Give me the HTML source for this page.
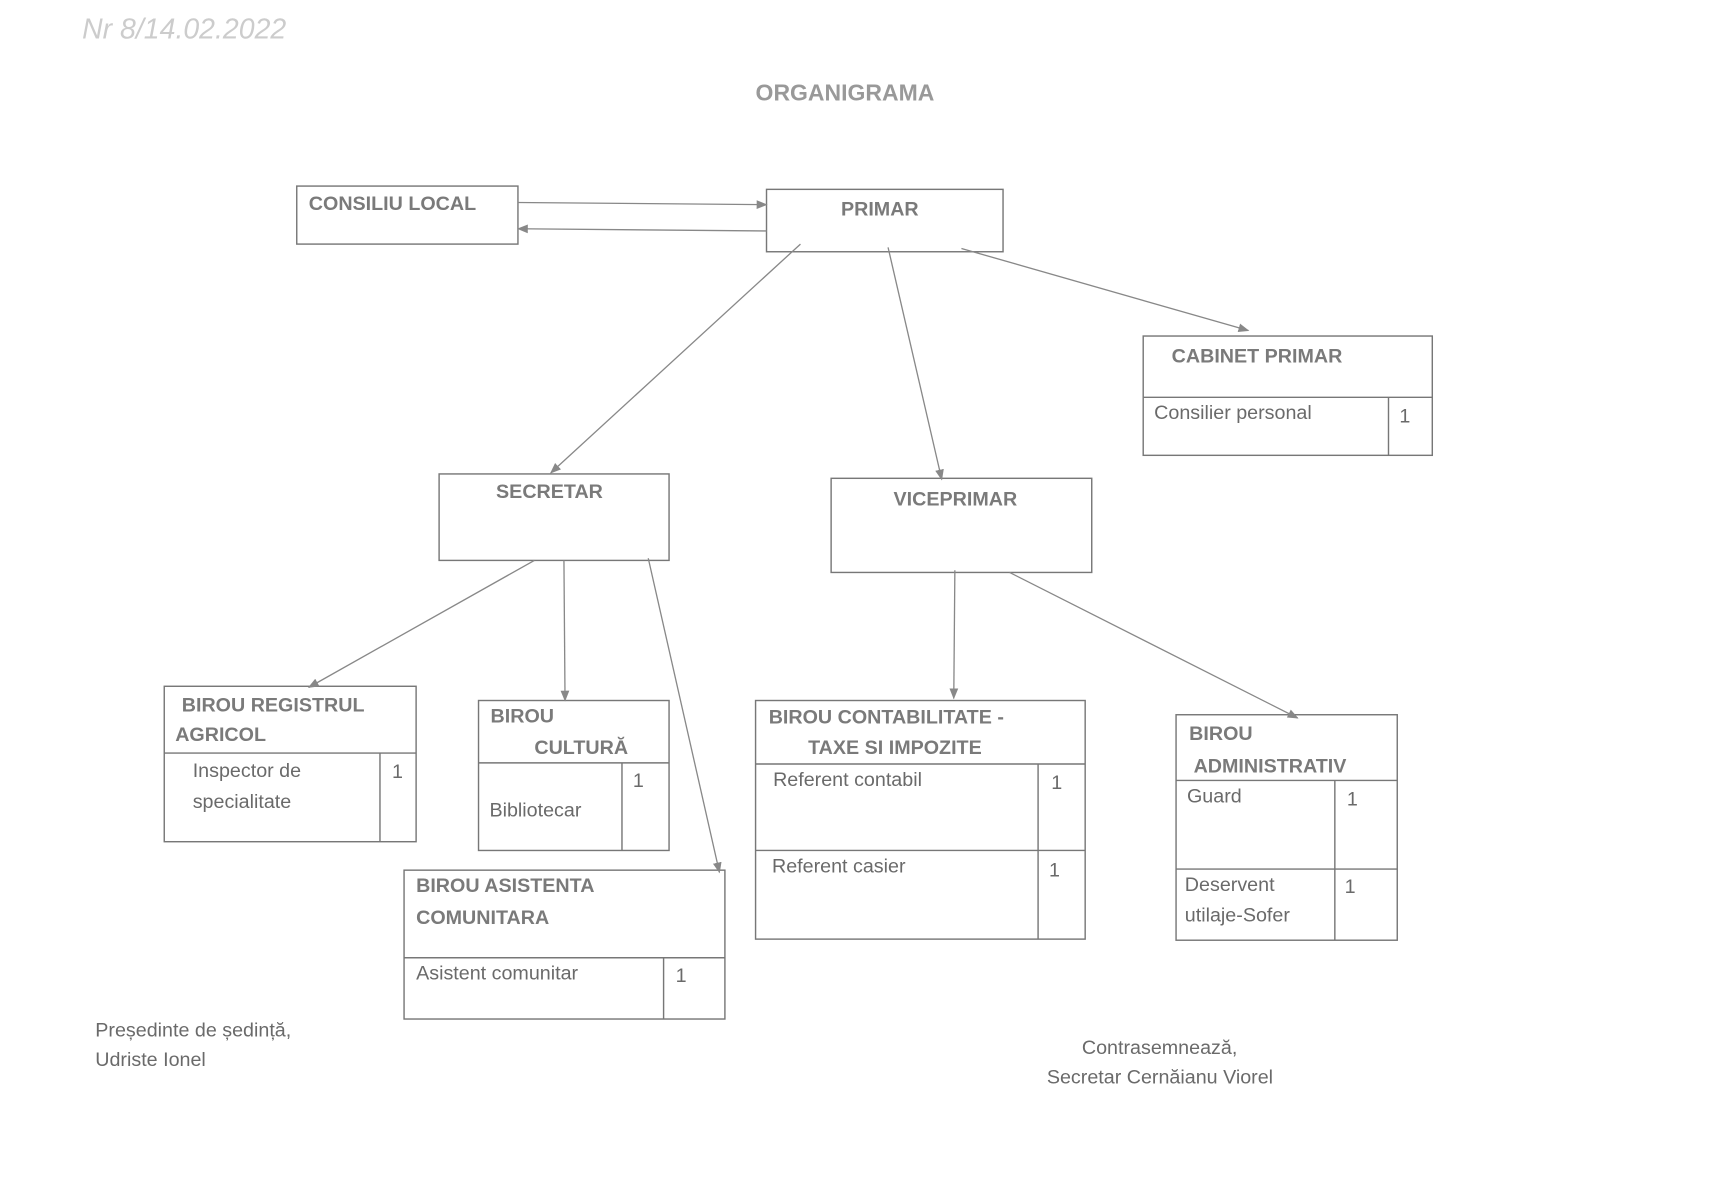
<!DOCTYPE html>
<html><head><meta charset="utf-8"><style>
html,body{margin:0;padding:0;background:#fff;}
svg{display:block}
text{font-family:"Liberation Sans",sans-serif;fill:#6a6a6a;font-size:18px}
.b{font-weight:bold;fill:#7a7a7a}
</style></head><body>
<svg width="1717" height="1204" viewBox="0 0 1568 1100" preserveAspectRatio="none" xmlns="http://www.w3.org/2000/svg">
<defs><marker id="a" markerWidth="10" markerHeight="10" refX="9" refY="5" orient="auto" markerUnits="userSpaceOnUse"><path d="M0,1 L10,5 L0,9 z" fill="#888"/></marker></defs>
<rect width="1568" height="1100" fill="#fff"/>
<text x="75" y="35" style="font-size:26px;fill:#ccc;font-style:italic">Nr 8/14.02.2022</text>
<text x="690" y="92" class="b" style="font-size:21px;fill:#999">ORGANIGRAMA</text>
<g fill="none" stroke="#777" stroke-width="1.3">
<rect x="271" y="170" width="202" height="53"/>
<rect x="700" y="173" width="216" height="57"/>
<rect x="1044" y="307" width="264" height="109"/><line x1="1044" y1="363" x2="1308" y2="363"/><line x1="1268" y1="363" x2="1268" y2="416"/>
<rect x="401" y="433" width="210" height="79"/>
<rect x="759" y="437" width="238" height="86"/>
<rect x="150" y="627" width="230" height="142"/><line x1="150" y1="688" x2="380" y2="688"/><line x1="347" y1="688" x2="347" y2="769"/>
<rect x="437" y="640" width="174" height="137"/><line x1="437" y1="697" x2="611" y2="697"/><line x1="568" y1="697" x2="568" y2="777"/>
<rect x="369" y="795" width="293" height="136"/><line x1="369" y1="875" x2="662" y2="875"/><line x1="606" y1="875" x2="606" y2="931"/>
<rect x="690" y="640" width="301" height="218"/><line x1="690" y1="698" x2="991" y2="698"/><line x1="690" y1="777" x2="991" y2="777"/><line x1="948" y1="698" x2="948" y2="858"/>
<rect x="1074" y="653" width="202" height="206"/><line x1="1074" y1="713" x2="1276" y2="713"/><line x1="1074" y1="794" x2="1276" y2="794"/><line x1="1219" y1="713" x2="1219" y2="859"/>
</g>
<g stroke="#888" stroke-width="1.2" marker-end="url(#a)">
<line x1="473" y1="185" x2="700" y2="187"/>
<line x1="700" y1="211" x2="473" y2="209"/>
<line x1="731" y1="223" x2="503" y2="432"/>
<line x1="811" y1="226" x2="860" y2="438"/>
<line x1="878" y1="227" x2="1140" y2="302"/>
<line x1="488" y1="512" x2="282" y2="628"/>
<line x1="515" y1="512" x2="516" y2="640"/>
<line x1="592" y1="510" x2="657" y2="797"/>
<line x1="872" y1="521" x2="871" y2="638"/>
<line x1="922" y1="523" x2="1185" y2="656"/>
</g>
<text x="282" y="192" class="b">CONSILIU LOCAL</text>
<text x="768" y="197" class="b">PRIMAR</text>
<text x="1070" y="331" class="b">CABINET PRIMAR</text>
<text x="1054" y="383">Consilier personal</text><text x="1278" y="386">1</text>
<text x="453" y="455" class="b">SECRETAR</text>
<text x="816" y="462" class="b">VICEPRIMAR</text>
<text x="166" y="650" class="b">BIROU REGISTRUL</text><text x="160" y="677" class="b">AGRICOL</text>
<text x="176" y="710">Inspector de</text><text x="176" y="738">specialitate</text><text x="358" y="711">1</text>
<text x="448" y="660" class="b">BIROU</text><text x="488" y="689" class="b">CULTURĂ</text>
<text x="447" y="746">Bibliotecar</text><text x="578" y="719">1</text>
<text x="380" y="815" class="b">BIROU ASISTENTA</text><text x="380" y="844" class="b">COMUNITARA</text>
<text x="380" y="895">Asistent comunitar</text><text x="617" y="897">1</text>
<text x="702" y="661" class="b">BIROU CONTABILITATE -</text><text x="738" y="689" class="b">TAXE SI IMPOZITE</text>
<text x="706" y="718">Referent contabil</text><text x="960" y="721">1</text>
<text x="705" y="797">Referent casier</text><text x="958" y="801">1</text>
<text x="1086" y="676" class="b">BIROU</text><text x="1090" y="706" class="b">ADMINISTRATIV</text>
<text x="1084" y="733">Guard</text><text x="1230" y="736">1</text>
<text x="1082" y="814">Deservent</text><text x="1082" y="842">utilaje-Sofer</text><text x="1228" y="816">1</text>
<text x="87" y="947">Președinte de ședință,</text><text x="87" y="974">Udriste Ionel</text>
<text x="988" y="963">Contrasemnează,</text><text x="956" y="990">Secretar Cernăianu Viorel</text>
</svg>
</body></html>
